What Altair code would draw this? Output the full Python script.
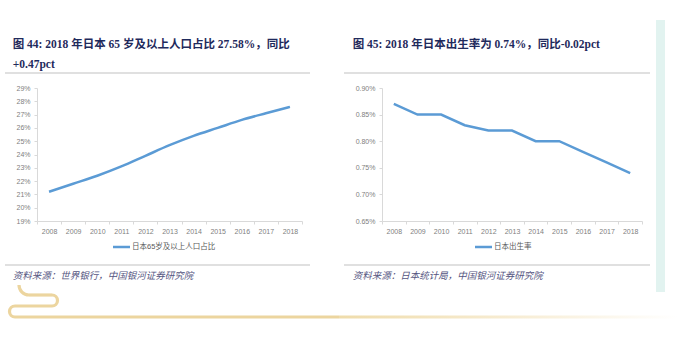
import math
import altair as alt
import pandas as pd

# ---------------- data ----------------
years = ["2008", "2009", "2010", "2011", "2012", "2013", "2014", "2015", "2016", "2017", "2018"]
aging_share = [21.2, 21.8, 22.4, 23.1, 23.9, 24.7, 25.4, 26.0, 26.6, 27.1, 27.58]   # % of population 65+
birth_rate = [0.87, 0.85, 0.85, 0.83, 0.82, 0.82, 0.80, 0.80, 0.78, 0.76, 0.74]      # %
aging_ticks = [19, 20, 21, 22, 23, 24, 25, 26, 27, 28, 29]
birth_ticks = [0.65, 0.70, 0.75, 0.80, 0.85, 0.90]

title1a = "图 44:  2018  年日本  65  岁及以上人口占比  27.58%，同比"
title1b = "+0.47pct"
title2 = "图 45:  2018 年日本出生率为 0.74%，同比-0.02pct"
legend1 = "日本65岁及以上人口占比"
legend2 = "日本出生率"
source1 = "资料来源：世界银行，中国银河证券研究院"
source2 = "资料来源：日本统计局，中国银河证券研究院"

# ---------------- style ----------------
BLUE = "#5b9bd5"
AXIS_GRAY = "#d9d9d9"
LABEL_GRAY = "#808080"
NAVY = "#1f2a5c"
SRC_COLOR = "#55557f"
GOLD = "#ecd59f"
TEAL = "#e2f3f0"
SEP = "#d6d6d6"
SANS = "Liberation Sans, Noto Sans CJK SC"
TITLE_FONT = "Liberation Serif, Noto Sans CJK SC"
H = 133

one = pd.DataFrame({"k": [0]})


def txt(s, x, y, size, color, weight="normal", style="normal", font=SANS):
    return alt.Chart(one).mark_text(
        text=s, align="left", baseline="middle", fontSize=size, color=color,
        fontWeight=weight, fontStyle=style, font=font,
    ).encode(x=alt.value(x), y=alt.value(y))


def hrule(x1, x2, y, color, width=1.0):
    return alt.Chart(one).mark_rule(color=color, strokeWidth=width).encode(
        x=alt.value(x1), x2=alt.value(x2), y=alt.value(y))


def box(x1, x2, y1, y2, color):
    return alt.Chart(one).mark_rect(color=color).encode(
        x=alt.value(x1), x2=alt.value(x2), y=alt.value(y1), y2=alt.value(y2))


def ring(cx, cy, r, t1, t2, color, thick=3.2):
    return alt.Chart(one).mark_arc(
        radius=r + thick / 2, radius2=r - thick / 2, theta=t1, theta2=t2, color=color
    ).encode(x=alt.value(cx), y=alt.value(cy))


def x_axis():
    return alt.Axis(title=None, labelAngle=0, labelFont=SANS, labelFontSize=7,
                    labelColor=LABEL_GRAY, domainColor=AXIS_GRAY, tickColor=AXIS_GRAY,
                    tickSize=3, tickBand="extent", labelPadding=3, grid=False)


def y_axis(values, expr):
    return alt.Axis(title=None, values=values, labelExpr=expr, labelFont=SANS,
                    labelFontSize=7, labelColor=LABEL_GRAY, domainColor=AXIS_GRAY,
                    tickColor=AXIS_GRAY, tickSize=3, labelPadding=4, grid=False)


# ---------------- panel 1 (plot origin at 37, 88) ----------------
W1 = 265
df1 = pd.DataFrame({"year": years, "value": aging_share})
line1 = alt.Chart(df1).mark_line(color=BLUE, strokeWidth=2.5, interpolate="monotone").encode(
    x=alt.X("year:O", scale=alt.Scale(type="band", paddingInner=0, paddingOuter=0), axis=x_axis()),
    y=alt.Y("value:Q", scale=alt.Scale(domain=[19, 29], nice=False, zero=False),
            axis=y_axis(aging_ticks, "datum.value + '%'")),
)

ox, oy = 37, 88
panel1 = alt.layer(
    hrule(-36.5, 301.5, -87.5, "white"),
    txt(title1a, -24.3, -43, 11.5, NAVY, weight="bold", font=TITLE_FONT),
    txt(title1b, -24.3, -23, 11.5, NAVY, weight="bold", font=TITLE_FONT),
    hrule(-32, 273, -15, SEP, 1.5),
    line1,
    hrule(76, 93, 159, BLUE, 2.5),
    txt(legend1, 95, 159, 7.5, "#595959"),
    hrule(-32, 273, 177, SEP, 1.5),
    txt(source1, -24.3, 188, 9.5, SRC_COLOR, style="italic"),
    # decorative gold swirl
    ring(29 - ox, 285 - oy, 10, math.pi, 1.5 * math.pi, GOLD),
    box(29 - ox, 52 - ox, 293.4 - oy, 296.6 - oy, GOLD),
    ring(52 - ox, 300.5 - oy, 5.5, 0, math.pi, GOLD),
    box(15 - ox, 52 - ox, 304.4 - oy, 307.6 - oy, GOLD),
    ring(15 - ox, 311.5 - oy, 5.5, math.pi, 2 * math.pi, GOLD),
    box(15 - ox, 339 - ox, 315.4 - oy, 318.6 - oy, GOLD),
).properties(width=W1, height=H)

# ---------------- panel 2 (plot origin at 382, 88) ----------------
W2 = 260
df2 = pd.DataFrame({"year": years, "value": birth_rate})
line2 = alt.Chart(df2).mark_line(color=BLUE, strokeWidth=2.5).encode(
    x=alt.X("year:O", scale=alt.Scale(type="band", paddingInner=0, paddingOuter=0), axis=x_axis()),
    y=alt.Y("value:Q", scale=alt.Scale(domain=[0.65, 0.90], nice=False, zero=False),
            axis=y_axis(birth_ticks, "format(datum.value, '.2f') + '%'")),
)

fade = alt.LinearGradient(
    gradient="linear", x1=0, x2=1, y1=0, y2=0,
    stops=[alt.GradientStop(color="#efdcab", offset=0),
           alt.GradientStop(color="#f7ecd2", offset=0.5),
           alt.GradientStop(color="#ffffff", offset=1)],
)
fade_bar = alt.Chart(one).mark_rect(color=fade).encode(
    x=alt.value(-43), x2=alt.value(296), y=alt.value(315.4 - 88), y2=alt.value(318.6 - 88))

panel2 = alt.layer(
    hrule(-42.5, 295.5, -87.5, "white"),
    box(274, 283, -68, 204, TEAL),
    txt(title2, -29.3, -43, 11.5, NAVY, weight="bold", font=TITLE_FONT),
    hrule(-38, 268, -15, SEP, 1.5),
    line2,
    hrule(93, 110, 159, BLUE, 2.5),
    txt(legend2, 112, 159, 7.5, "#595959"),
    hrule(-38, 268, 177, SEP, 1.5),
    txt(source2, -29.3, 188, 9.5, SRC_COLOR, style="italic"),
    fade_bar,
).properties(width=W2, height=H)

chart = alt.hconcat(panel1, panel2, spacing=0).properties(
    padding=0, background="white"
).configure_view(strokeWidth=0)

chart.save("out.html", embed_options={"renderer": "svg", "actions": False})
